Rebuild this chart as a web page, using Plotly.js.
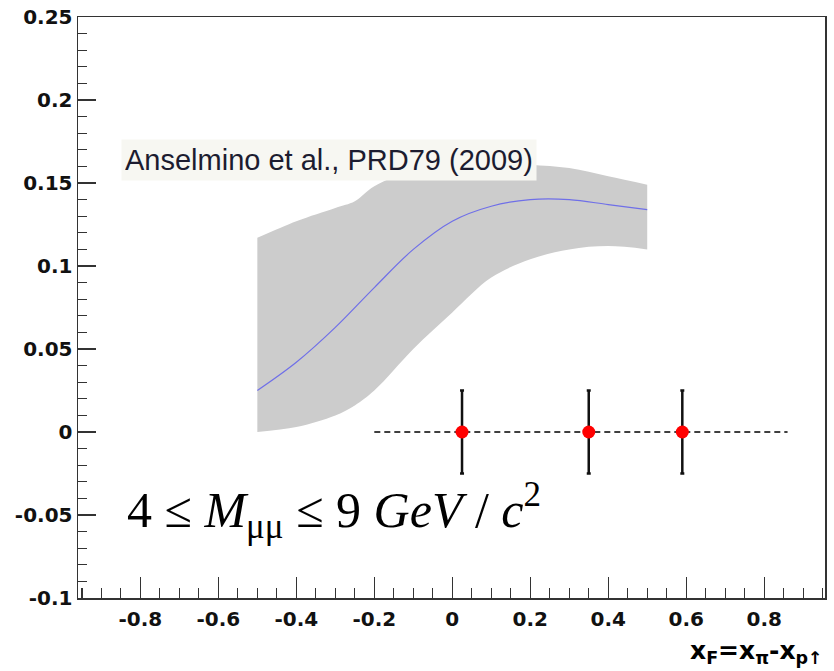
<!DOCTYPE html>
<html>
<head>
<meta charset="utf-8">
<script src="https://cdn.plot.ly/plotly-3.0.1.min.js"></script>
<style>html,body{margin:0;padding:0;background:#fff;}#chart{width:834px;height:671px;}</style>
</head>
<body>
<div id="chart"></div>
<script>
// Theory band (Anselmino et al.) upper and lower edges
const bandX     = [-0.5, -0.4, -0.3, -0.25, -0.2, -0.1, 0.0, 0.1, 0.2, 0.3, 0.4, 0.5];
const bandUpper = [0.117, 0.127, 0.135, 0.139, 0.148, 0.158, 0.162, 0.163, 0.161, 0.159, 0.154, 0.149];
const bandLower = [0.000, 0.003, 0.010, 0.016, 0.025, 0.050, 0.072, 0.093, 0.104, 0.110, 0.112, 0.110];
// Central theory curve
const curveX = [-0.5, -0.4, -0.3, -0.2, -0.1, 0.0, 0.1, 0.2, 0.3, 0.4, 0.5];
const curveY = [0.025, 0.042, 0.063, 0.087, 0.110, 0.127, 0.136, 0.140, 0.140, 0.137, 0.134];
// Measured points
const dataX   = [0.025, 0.35, 0.59];
const dataY   = [0, 0, 0];
const dataErr = [0.025, 0.025, 0.025];
// Dashed reference line
const refX = [-0.2, 0.86];
const refY = [0, 0];
// Tick labels
const xTickVals = [-0.8, -0.6, -0.4, -0.2, 0, 0.2, 0.4, 0.6, 0.8];
const xTickText = ['-0.8', '-0.6', '-0.4', '-0.2', '0', '0.2', '0.4', '0.6', '0.8'];
const yTickVals = [-0.1, -0.05, 0, 0.05, 0.1, 0.15, 0.2, 0.25];
const yTickText = ['-0.1', '-0.05', '0', '0.05', '0.1', '0.15', '0.2', '0.25'];

const traces = [
  {x: bandX, y: bandLower, type: 'scatter', mode: 'lines',
   line: {width: 0, color: '#cccccc', shape: 'spline'}, hoverinfo: 'skip', showlegend: false},
  {x: bandX, y: bandUpper, type: 'scatter', mode: 'lines', fill: 'tonexty',
   fillcolor: '#cccccc', line: {width: 0, color: '#cccccc', shape: 'spline'},
   hoverinfo: 'skip', showlegend: false},
  {x: curveX, y: curveY, type: 'scatter', mode: 'lines',
   line: {color: '#6f6fe8', width: 1.2, shape: 'spline'}, showlegend: false},
  {x: refX, y: refY, type: 'scatter', mode: 'lines',
   line: {color: '#000', width: 1.3, dash: '6px,4px'}, showlegend: false},
  {x: dataX, y: dataY, type: 'scatter', mode: 'markers',
   marker: {color: '#ff0000', size: 13},
   error_y: {type: 'data', array: dataErr, visible: true, color: '#111', thickness: 2.5, width: 2},
   showlegend: false}
];

const tickFont = {family: 'DejaVu Sans', size: 20, color: '#111', weight: 'bold'};
const layout = {
  width: 834, height: 671,
  margin: {l: 78, r: 9, t: 17, b: 73},
  paper_bgcolor: '#fff', plot_bgcolor: '#fff',
  showlegend: false,
  xaxis: {
    range: [-0.96, 0.956], showgrid: false, zeroline: false,
    showline: true, mirror: true, linecolor: '#333', linewidth: 1.5,
    ticks: 'inside', ticklen: 21, tickwidth: 1.2, tickcolor: '#333',
    tickvals: xTickVals, ticktext: xTickText, tickfont: tickFont,
    minor: {dtick: 0.05, tick0: 0, ticks: 'inside', ticklen: 10, tickwidth: 1.2, tickcolor: '#333', showgrid: false},
    ticklabelstandoff: 2
  },
  yaxis: {
    range: [-0.1, 0.25], showgrid: false, zeroline: false,
    showline: true, mirror: true, linecolor: '#333', linewidth: 1.5,
    ticks: 'inside', ticklen: 18, tickwidth: 1.2, tickcolor: '#333',
    tickvals: yTickVals, ticktext: yTickText, tickfont: tickFont,
    minor: {dtick: 0.01, tick0: 0, ticks: 'inside', ticklen: 9, tickwidth: 1.2, tickcolor: '#333', showgrid: false}
  },
  annotations: [
    {xref: 'paper', yref: 'paper', x: 0.0576, y: 0.754, xanchor: 'left', yanchor: 'middle',
     text: 'Anselmino et al., PRD79 (2009)', showarrow: false, align: 'left',
     bgcolor: '#f7f7f2', width: 408, height: 34, borderpad: 3,
     font: {family: 'Liberation Sans', size: 29, color: '#1c1c30'}},
    {xref: 'paper', yref: 'paper', x: 0.063, y: 0.15, xanchor: 'left', yanchor: 'middle',
     text: '4 ≤ <i>M</i><sub>μμ</sub> ≤ 9 <i>GeV</i> / <i>c</i><sup>2</sup>', showarrow: false,
     font: {family: 'Liberation Serif', size: 50, color: '#000'}},
    {xref: 'paper', yref: 'paper', x: 1.0, y: -0.093, xanchor: 'right', yanchor: 'middle',
     text: '<b>x<sub>F</sub>=x<sub>π</sub>-x<sub>p↑</sub></b>', showarrow: false,
     font: {family: 'DejaVu Sans', size: 25, color: '#000'}}
  ]
};

Plotly.newPlot('chart', traces, layout, {displayModeBar: false, staticPlot: true});
</script>
</body>
</html>
